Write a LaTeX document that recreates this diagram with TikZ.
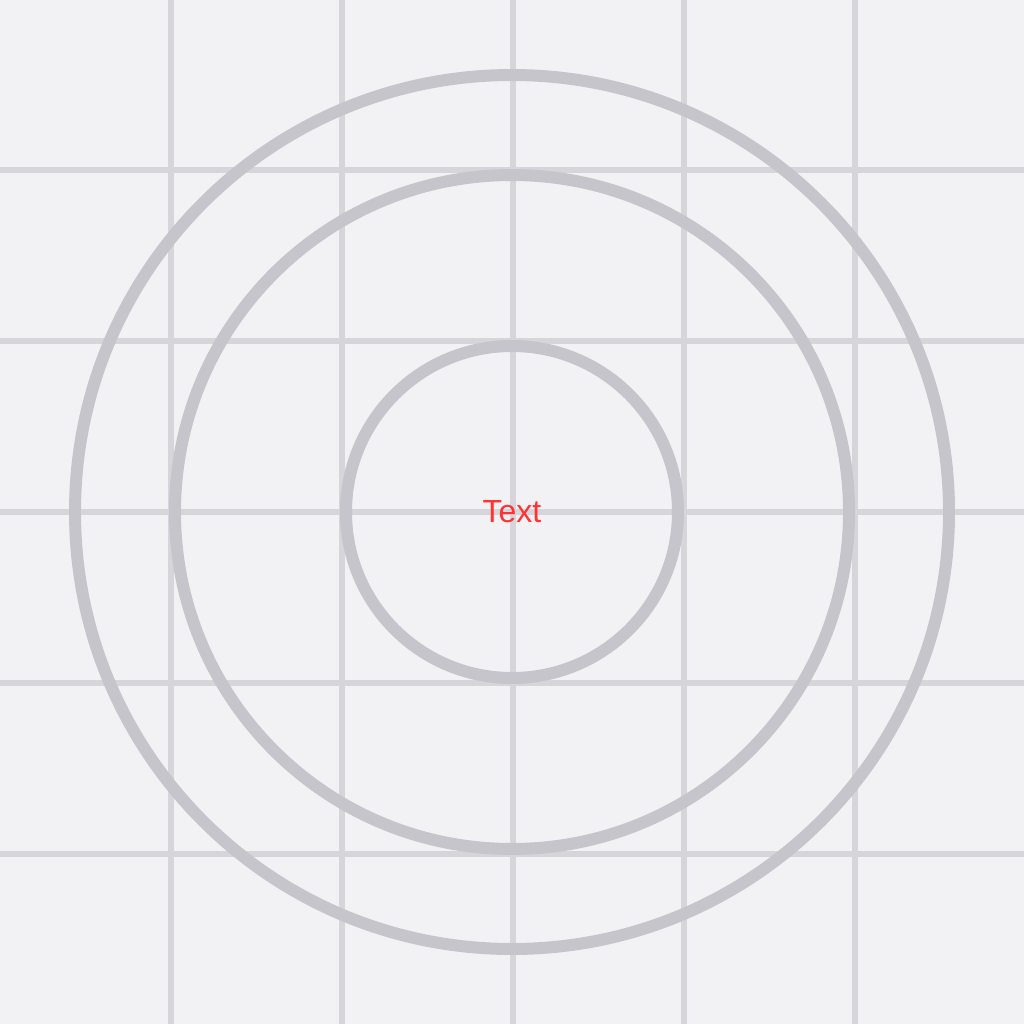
\documentclass[tikz,border=0pt]{standalone}
\usepackage{fontspec}
\setmainfont{Liberation Sans}
\definecolor{bg}{HTML}{F2F2F4}
\definecolor{gridc}{HTML}{D6D6DA}
\definecolor{ringc}{HTML}{C5C5CB}
\definecolor{txtc}{HTML}{FF3333}
\tikzset{
  gridline/.style={draw=gridc, line width=5.5pt},
  ring/.style={draw=ringc, line width=12pt},
}
\begin{document}
\begin{tikzpicture}[x=1pt,y=-1pt]
\fill[bg] (0,0) rectangle (1024,1024);
\useasboundingbox (0,0) rectangle (1024,1024);
\foreach \g in {171,342,513,684,855}{
  \draw[gridline] (\g,0) -- (\g,1024);
  \draw[gridline] (0,\g-1) -- (1024,\g-1);
}
\coordinate (c) at (512,512);
\draw[ring] (c) circle[radius=437];
\draw[ring] (c) circle[radius=337];
\draw[ring] (c) circle[radius=166];
\node[text=txtc, font=\fontsize{32}{37}\selectfont, inner sep=0pt] (t) at (512,512) {Text};
\end{tikzpicture}
\end{document}
